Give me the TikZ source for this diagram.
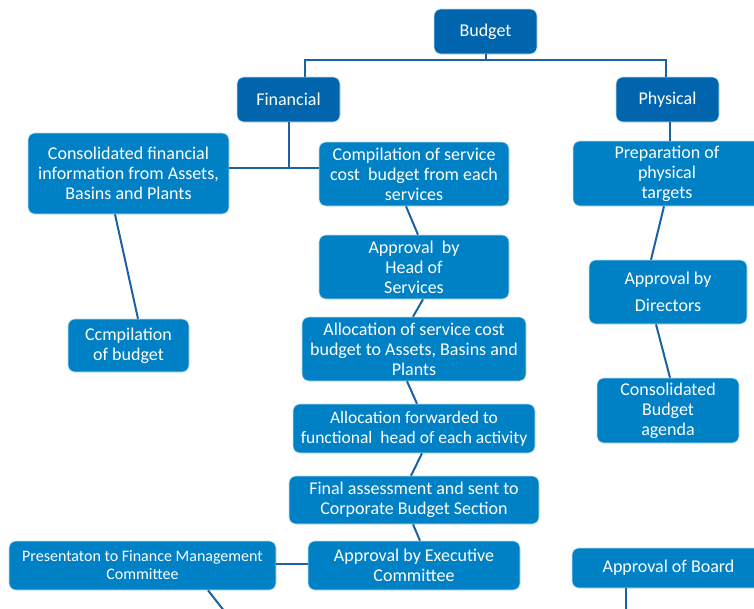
\documentclass[tikz,border=0pt]{standalone}
\usepackage{fontspec}
\setmainfont{Carlito}
\definecolor{dkbox}{HTML}{0065AC}
\definecolor{ltbox}{HTML}{0080C5}
\definecolor{lnc}{HTML}{1A62A3}
\tikzset{
  base/.style={rounded corners=7pt, draw=white!75!ltbox, line width=0.6pt, text=white, align=center, inner sep=1pt, font=\fontsize{18}{20}\selectfont},
  dk/.style={base, fill=dkbox},
  lt/.style={base, fill=ltbox},
  conn/.style={draw=lnc, line width=2pt}
}
\begin{document}
\begin{tikzpicture}[x=1pt,y=-1pt]
\useasboundingbox[fill=white] (0,0) rectangle (754,608);
% top level
\node[dk, minimum width=103pt, minimum height=45pt] (budget) at (485.5,31.5) {Budget};
\node[dk, minimum width=103pt, minimum height=45pt] (fin) at (288.5,99.5) {Financial};
\node[dk, minimum width=103pt, minimum height=45pt] (phys) at (667.5,99.5) {Physical};
% financial left
\node[lt, minimum width=201pt, minimum height=81pt] (cons) at (128.5,173.5) {Consolidated financial\\information from Assets,\\Basins and Plants};
\node[lt, minimum width=121pt, minimum height=53pt] (ccmp) at (128.5,345.5) {Ccmpilation\\of budget};
% middle column
\node[lt, minimum width=190pt, minimum height=64pt] (comp) at (414,174) {Compilation of service\\cost\ \ budget from each\\services};
\node[lt, minimum width=190pt, minimum height=64pt] (appr) at (414,267) {Approval\ \ by\\Head of\\Services};
\node[lt, minimum width=224pt, minimum height=64pt] (alloc) at (414,349) {Allocation of service cost\\budget to Assets, Basins and\\Plants};
\node[lt, minimum width=242pt, minimum height=49pt, font=\fontsize{17.5}{20}\selectfont] (fwd) at (414,428.5) {Allocation forwarded to\\functional\ \ head of each activity};
\node[lt, minimum width=250pt, minimum height=48pt] (final) at (414,500) {Final assessment and sent to\\Corporate Budget Section};
\node[lt, minimum width=212pt, minimum height=49pt] (exec) at (414,565.5) {Approval by Executive\\Committee};
\node[lt, minimum width=267pt, minimum height=49pt, font=\fontsize{16}{18}\selectfont] (pres) at (142.5,565.5) {Presentaton to Finance Management\\Committee};
% physical column
\node[lt, minimum width=188pt, minimum height=65pt] (prep) at (667,173.5) {Preparation of\\physical\\targets};
\node[lt, minimum width=158pt, minimum height=64pt] (dir) at (668,292) {Approval by\\[7pt]Directors};
\node[lt, minimum width=142pt, minimum height=65pt] (agenda) at (668,410.5) {Consolidated\\Budget\\agenda};
\node[lt, minimum width=193pt, minimum height=40pt] (board) at (668.5,568) {Approval of Board};
% free ends
\coordinate (presend) at (225,612);
\coordinate (boardend) at (626,612);
\coordinate (fj) at (288.5,168);
% connectors
\draw[conn] (budget.south) -- ++(0,6) coordinate (bj);
\draw[conn] ([xshift=16.5pt]fin.north) |- (bj) -| ([xshift=-1.5pt]phys.north);
\draw[conn] (fin.south) -- (fj);
\draw[conn] (cons.east |- fj) -- (comp.west |- fj);
\draw[conn] ([xshift=2pt]phys.south) -- ([xshift=2pt]phys.south |- prep.north);
\draw[conn] ([xshift=-13.5pt]cons.south) -- ([xshift=9.5pt]ccmp.north);
\draw[conn] ([xshift=-8pt]comp.south) -- ([xshift=4pt]appr.north);
\draw[conn] ([xshift=9pt]appr.south) -- ([xshift=-1pt]alloc.north);
\draw[conn] ([xshift=-7pt]alloc.south) -- ([xshift=3pt]fwd.north);
\draw[conn] ([xshift=8pt]fwd.south) -- ([xshift=-3pt]final.north);
\draw[conn] ([xshift=-1pt]final.south) -- ([xshift=6pt]exec.north);
\draw[conn] ([yshift=2pt]exec.west) -- ([yshift=2pt]pres.east);
\draw[conn] ([xshift=65.5pt]pres.south) -- (presend);
\draw[conn] ([xshift=-3pt]prep.south) -- ([xshift=-17pt]dir.north);
\draw[conn] ([xshift=-12pt]dir.south) -- ([xshift=2pt]agenda.north);
\draw[conn] ([xshift=-42.5pt]board.south) -- (boardend);
\end{tikzpicture}
\end{document}
